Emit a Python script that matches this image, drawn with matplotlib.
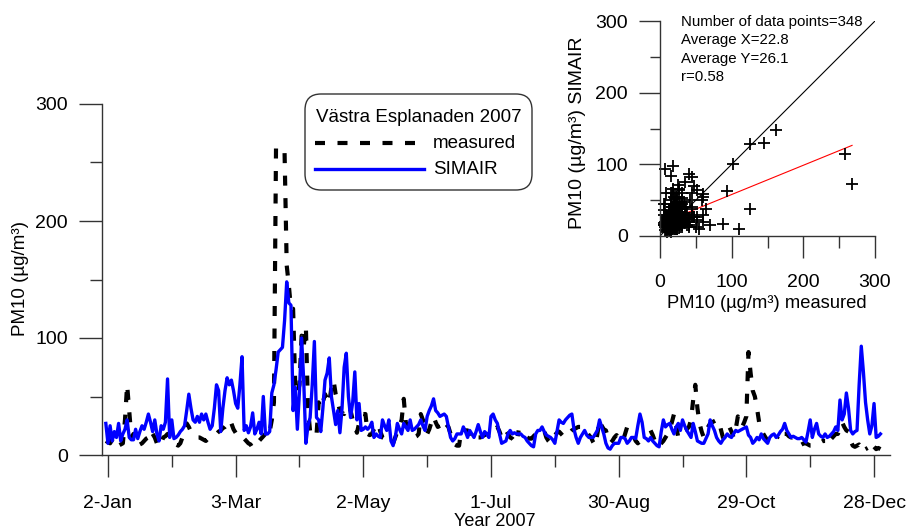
import numpy as np
import matplotlib
matplotlib.use("Agg")
import matplotlib.pyplot as plt
from matplotlib.patches import FancyBboxPatch
from matplotlib.lines import Line2D
from matplotlib.transforms import IdentityTransform

plt.rcParams['font.family'] = ['Liberation Sans', 'DejaVu Sans']

nan = np.nan

# daily PM10, day of year 2007 (1 = 1-Jan)
measured = [
    12, 11, 10, 13, 15, 12, 8, 9, 10, 30,
    60, 38, 15, 18, 17, 8, 9, 10, 12, 14,
    15, 21, 18, 15, 10, 7, 10, 15, 16, 18,
    14, 12, 10, 9, 8, 10, 15, 20, 27, 24,
    20, 18, 16, 15, 15, 14, 13, 12, 14, 15,
    16, 17, 18, 20, 21, 23, 24, 26, 30, 27,
    22, 19, 17, 15, 16, 14, 12, 10, 9, 6,
    8, 10, 12, 14, 16, 18, 15, 20, 30, 45,
    268, nan, nan, nan, 258, 162, 145, 125, 125, 60,
    52, 60, 102, 93, 110, 40, 20, 17, 18, 17,
    45, 40, 45, 52, 48, 44, 58, 64, 52, 45,
    38, 36, 35, 40, 42, 38, 30, 25, 19, 27,
    33, 35, 35, 18, 17, 18, 22, 25, 27, 20,
    15, 14, 15, 14, 12, 10, 15, 20, 25, 30,
    48, 27, 26, 24, 20, 15, 16, 18, 35, 30,
    27, 18, 22, 28, 33, 28, 24, 25, nan, nan,
    26, 24, 18, 11, 9, 8, 8, 21, 22, 21,
    21, 16, 14, 12, 14, 15, 15, 16, 17, 18,
    18, 18, 18, 22, 24, 20, 15, 18, 21, 18,
    15, 14, 12, 10, 21, nan, nan, nan, 15, 14,
    14, 16, 18, 20, 21, 21, 21, 15, 12, 10,
    14, 17, 19, 20, 18, 16, 15, 17, 19, 21,
    22, 23, 24, 24, 24, 24, 20, 17, 15, 11,
    8, 18, 30, 25, 22, 21, 15, 10, 12, 15,
    17, 14, 12, 12, 18, 24, 22, 21, 16, 12,
    10, 12, 14, 15, nan, nan, 21, 17, 12, 7,
    8, 10, 12, 15, 18, 22, 28, 35, 25, 15,
    15, 18, 21, 22, 24, 30, 47, 60, 40, 27,
    20, 15, 20, 24, 27, 28, 29, 30, 30, 22,
    15, 18, 21, 24, 20, 15, 22, 33, 28, 24,
    28, 33, 88, 70, 55, 50, 40, 28, 21, 18,
    15, 12, 10, 12, 15, 14, 16, nan, nan, 18,
    18, 16, 15, 15, 12, 10, 8, 9, 10, 10,
    9, 8, 8, 9, 10, 10, 11, 12, 12, nan,
    nan, 14, 16, 18, 18, 22, 28, 24, 21, 20,
    12, 8, 7, 8, 9, 7, nan, 5, 6, nan,
    nan, 7, 5, 6, 5,
]

simair = [
    27, 10, 25, 12, 20, 15, 27, 12, 18, 22,
    30, 15, 13, 13, 22, 14, 20, 25, 22, 28,
    35, 28, 20, 30, 18, 12, 25, 22, 28, 65,
    15, 30, 14, 15, 17, 20, 22, 25, 38, 52,
    40, 30, 28, 33, 28, 35, 30, 35, 28, 22,
    25, 40, 60, 55, 20, 40, 55, 66, 60, 64,
    55, 44, 40, 60, 84, 21, 25, 19, 24, 36,
    18, 22, 28, 18, 50, 18, 18, 20, 53, 60,
    73, 88, 90, 92, 115, 148, 130, 128, 38, 58,
    22, 55, 100, 63, 10, 25, 32, 60, 97, 32,
    30, 20, 40, 64, 70, 83, 50, 38, 26, 38,
    19, 40, 75, 87, 50, 32, 45, 71, 30, 44,
    21, 22, 24, 22, 24, 28, 15, 18, 16, 15,
    30, 25, 21, 30, 12, 8, 15, 27, 22, 18,
    27, 24, 21, 30, 21, 22, 24, 26, 30, 25,
    21, 33, 38, 42, 48, 38, 36, 33, 34, 35,
    33, 24, 15, 12, 14, 18, 18, 18, 24, 20,
    15, 21, 18, 15, 20, 26, 20, 15, 20, 18,
    15, 33, 35, 30, 27, 18, 10, 11, 12, 18,
    21, 18, 19, 18, 18, 18, 16, 15, 12, 10,
    8, 7, 18, 21, 21, 24, 20, 17, 16, 15,
    13, 10, 20, 30, 28, 27, 30, 32, 34, 35,
    22, 15, 10, 15, 18, 21, 17, 15, 15, 15,
    18, 21, 30, 24, 18, 10, 6, 5, 8, 10,
    10, 10, 15, 15, 14, 10, 12, 15, 15, 14,
    25, 35, 28, 15, 14, 12, 15, 12, 10, 8,
    7, 20, 30, 24, 26, 27, 22, 18, 24, 27,
    21, 30, 25, 21, 18, 15, 27, 20, 12, 11,
    10, 10, 14, 18, 30, 25, 21, 15, 12, 10,
    13, 15, 18, 16, 15, 18, 21, 20, 21, 22,
    23, 24, 17, 15, 10, 12, 15, 13, 18, 14,
    12, 10, 15, 17, 18, 15, 17, 20, 22, 27,
    21, 18, 15, 16, 15, 14, 14, 15, 13, 11,
    20, 30, 15, 22, 27, 18, 16, 15, 18, 15,
    16, 18, 20, 24, 21, 47, 30, 35, 53, 40,
    21, 18, 20, 21, 60, 93, 71, 45, 30, 18,
    25, 44, 15, 16, 18,
]

tick_days = [2, 62, 122, 182, 242, 302, 362]
tick_labels = ['2-Jan', '3-Mar', '2-May', '1-Jul', '30-Aug', '29-Oct', '28-Dec']
minor_days = [32, 92, 152, 212, 272, 332]

stats_text = ['Number of data points=348', 'Average X=22.8', 'Average Y=26.1', 'r=0.58']

W, H = 908, 530


def fx(px):
    return px / W


def fy(py):
    return 1 - py / H


m = np.array(measured, dtype=float)
s = np.array(simair, dtype=float)
days = np.arange(1, len(m) + 1)

fig = plt.figure(figsize=(W / 100, H / 100), dpi=100)

# hovedgraf - tidsserie
ax = fig.add_axes([fx(102), fy(455), fx(890) - fx(102), fy(104) - fy(455)])
ax.patch.set_visible(False)
ax.plot(days, m, color='black', lw=3.0, dashes=(2.4, 3.0), zorder=2)
ax.plot(days, s, color='#0000ff', lw=2.4, zorder=3)
ax.set_xlim(-0.8, 369.5)
ax.set_ylim(0, 300)
for side in ['top', 'right']:
    ax.spines[side].set_visible(False)
for side in ['left', 'bottom']:
    ax.spines[side].set_color('#333333')
    ax.spines[side].set_linewidth(1.0)
ax.set_xticks(tick_days)
ax.set_xticklabels(tick_labels)
ax.set_xticks(minor_days, minor=True)
ax.set_yticks([0, 100, 200, 300])
ax.set_yticks([50, 150, 250], minor=True)
ax.tick_params(axis='x', which='major', length=16, width=1, pad=12.5, labelsize=14, color='#333333')
ax.tick_params(axis='x', which='minor', length=8.5, width=1, color='#333333')
ax.tick_params(axis='y', which='major', length=16.5, width=1, pad=8, labelsize=14, color='#333333')
ax.tick_params(axis='y', which='minor', length=8.5, width=1, color='#333333')

fig.text(fx(21), fy(279), 'PM10 (µg/m³)', rotation=90, ha='center', va='center', fontsize=13.5)
fig.text(fx(495), fy(521), 'Year 2007', ha='center', va='center', fontsize=13)

# legend box, drawn by hand
box = FancyBboxPatch((305, H - 190), 227, 96, boxstyle='round,pad=0,rounding_size=16',
                     transform=IdentityTransform(), facecolor='white', edgecolor='#333333', lw=1.0)
fig.add_artist(box)
fig.text(fx(316), fy(117), 'Västra Esplanaden 2007', ha='left', va='center', fontsize=13.5)
fig.add_artist(Line2D([fx(315), fx(425)], [fy(143), fy(143)], transform=fig.transFigure,
                      color='black', lw=3.0, dashes=(2.4, 3.0)))
fig.text(fx(433), fy(143), 'measured', ha='left', va='center', fontsize=13.5)
fig.add_artist(Line2D([fx(315), fx(424)], [fy(169), fy(169)], transform=fig.transFigure,
                      color='#0000ff', lw=2.4))
fig.text(fx(433), fy(169), 'SIMAIR', ha='left', va='center', fontsize=13.5)

# innfelt - spredningsplot
ax2 = fig.add_axes([fx(660), fy(236), fx(875) - fx(660), fy(21) - fy(236)])
ax2.patch.set_visible(False)
ok = ~np.isnan(m)
ax2.plot([0, 300], [0, 300], color='black', lw=0.8)
slope, icept = np.polyfit(m[ok], s[ok], 1)
xr = np.array([m[ok].min(), m[ok].max()])
ax2.plot(xr, slope * xr + icept, color='red', lw=0.8)
ax2.plot(m[ok], s[ok], '+', color='black', ms=8, mew=1.3, clip_on=False)
ax2.set_xlim(0, 300)
ax2.set_ylim(0, 300)
for side in ['top', 'right']:
    ax2.spines[side].set_visible(False)
for side in ['left', 'bottom']:
    ax2.spines[side].set_color('#333333')
    ax2.spines[side].set_linewidth(1.0)
ax2.set_xticks([0, 100, 200, 300])
ax2.set_xticks([50, 150, 250], minor=True)
ax2.set_yticks([0, 100, 200, 300])
ax2.set_yticks([50, 150, 250], minor=True)
ax2.tick_params(axis='x', which='major', length=16, width=1, pad=11.5, labelsize=14, color='#333333')
ax2.tick_params(axis='x', which='minor', length=8.5, width=1, color='#333333')
ax2.tick_params(axis='y', which='major', length=15, width=1, pad=8, labelsize=14, color='#333333')
ax2.tick_params(axis='y', which='minor', length=7.5, width=1, color='#333333')

fig.text(fx(767), fy(303), 'PM10 (µg/m³) measured', ha='center', va='center', fontsize=13.2)
fig.text(fx(577), fy(133), 'PM10 (µg/m³) SIMAIR', rotation=90, ha='center', va='center', fontsize=14)
for i, line in enumerate(stats_text):
    fig.text(fx(681), fy(22 + 18.4 * i), line, ha='left', va='center', fontsize=10.8)

fig.savefig('out.png', dpi=100)
